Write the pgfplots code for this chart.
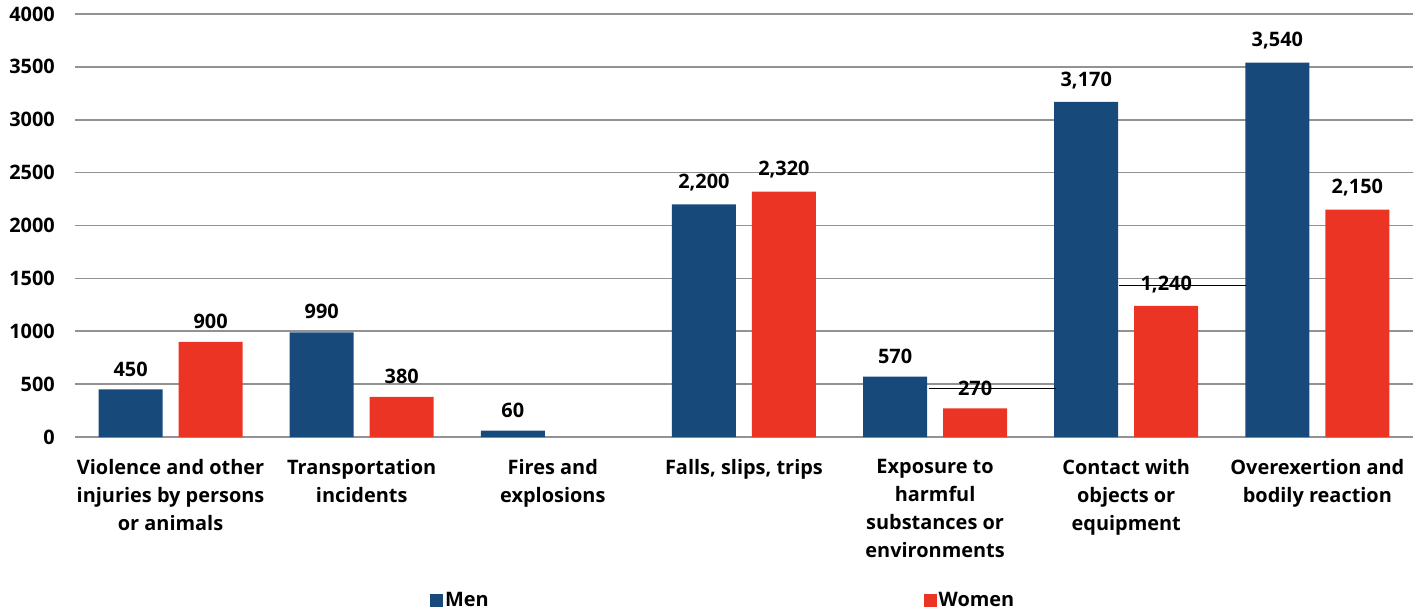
\documentclass[border=0pt]{standalone}
\usepackage{pgfplots}
\pgfplotsset{compat=1.18}
\usepackage{fontspec}
\setmainfont{Open Sans}
\definecolor{menc}{HTML}{17497B}
\definecolor{womc}{HTML}{EC3424}
\definecolor{gridc}{HTML}{929292}
\begin{document}
\begin{tikzpicture}
\begin{axis}[
  scale only axis, width=1338bp, height=423bp,
  xmin=-0.5, xmax=6.5, ymin=0, ymax=4000,
  ybar, bar width=64bp,
  axis line style={draw=none},
  ymajorgrids, grid style={gridc, line width=1.6bp},
  xtick={0,...,6},
  xticklabels={{Violence and other\\injuries by persons\\or animals},
    {Transportation\\incidents},
    {Fires and\\explosions},
    {Falls, slips, trips},
    {Exposure to\\harmful\\substances or\\environments},
    {Contact with\\objects or\\equipment},
    {Overexertion and\\bodily reaction}},
  ytick={0,500,...,4000},
  major tick length=0pt,
  tick label style={font=\fontsize{20}{28}\selectfont\bfseries, black},
  xticklabel style={align=center, anchor=north, inner sep=0pt, yshift=-22bp},
  yticklabel style={anchor=east, inner sep=0pt, xshift=-20bp},
  /pgf/number format/1000 sep={},
  /pgf/number format/assume math mode=true,
  nodes near coords={\pgfmathprintnumber[1000 sep={,}]{\pgfplotspointmeta}},
  nodes near coords style={font=\fontsize{20}{28}\selectfont\bfseries, black, anchor=south, inner sep=0pt, yshift=13bp},
  legend columns=2,
  legend style={at={(0.2652,-0.385)}, anchor=west, draw=none, fill=none, inner sep=0pt,
    font=\fontsize{20}{28}\selectfont\bfseries,
    /tikz/every even column/.append style={column sep=433bp}},
  legend image code/.code={\fill[#1] (-3bp,-7bp) rectangle (10bp,6bp);},
]
\addplot[fill=menc, draw=none, bar shift=-40bp] coordinates {
  (0,450) (1,990) (2,60) (3,2200) (4,570) (5,3170) (6,3540)};
\addlegendentry{Men}
\addplot[fill=womc, draw=none, bar shift=40bp] coordinates {
  (0,900) (1,380) (3,2320) (4,270) (5,1240) (6,2150)};
\addlegendentry{Women}
\draw[black, line width=0.9bp] (axis cs:3.966,463) -- (axis cs:4.631,463);
\draw[black, line width=0.9bp] (axis cs:4.961,1437) -- (axis cs:5.626,1437);
\end{axis}
\pgfresetboundingbox
\path[use as bounding box] ([shift={(-75bp,-176bp)}]current axis.south west) rectangle ([shift={(1346bp,437bp)}]current axis.south west);
\end{tikzpicture}
\end{document}
